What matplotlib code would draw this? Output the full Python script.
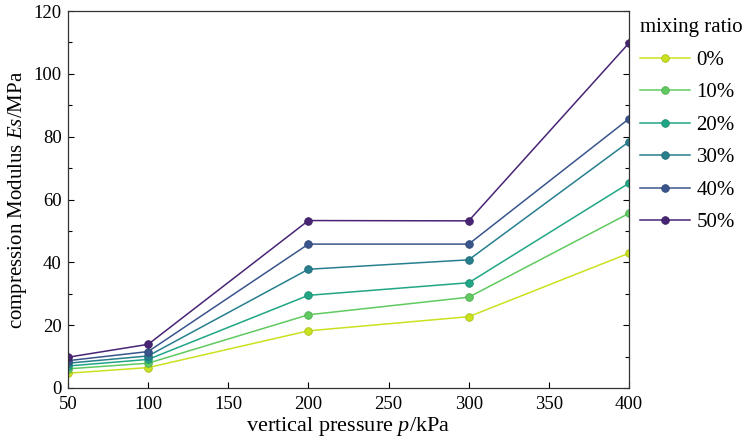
import matplotlib
matplotlib.use("Agg")
import matplotlib.pyplot as plt
import numpy as np
from matplotlib.ticker import MultipleLocator

pressure = [50, 100, 200, 300, 400]
ratios = ["0%", "10%", "20%", "30%", "40%", "50%"]
es_0 = [4.7, 6.5, 18.2, 22.7, 42.9]
es_10 = [6.1, 7.9, 23.3, 28.9, 55.6]
es_20 = [7.0, 9.1, 29.5, 33.5, 65.2]
es_30 = [7.9, 10.2, 37.8, 40.8, 78.4]
es_40 = [8.7, 11.6, 45.8, 45.8, 85.7]
es_50 = [9.8, 13.9, 53.3, 53.2, 109.8]
series = [es_0, es_10, es_20, es_30, es_40, es_50]

plt.rcParams['font.family'] = ['Liberation Serif', 'DejaVu Serif']
plt.rcParams['mathtext.fontset'] = 'custom'
plt.rcParams['mathtext.it'] = 'Liberation Serif:italic'
plt.rcParams['mathtext.rm'] = 'Liberation Serif'

fig = plt.figure(figsize=(7.51, 4.42), dpi=100)
ax = fig.add_axes([68/751, 1-388/442, (629-68)/751, (388-11)/442])

colors = plt.cm.viridis(np.linspace(0.92, 0.1, 6))
for vals, lab, c in zip(series, ratios, colors):
    ax.plot(pressure, vals, '-o', color=c, lw=1.1, ms=5.5,
            mec=tuple(np.clip(np.array(c[:3]) * 0.85, 0, 1)), mew=0.6, label=lab)

ax.set_xlim(50, 400)
ax.set_ylim(0, 120)
ax.xaxis.set_major_locator(MultipleLocator(50))
ax.yaxis.set_major_locator(MultipleLocator(20))
ax.yaxis.set_minor_locator(MultipleLocator(10))
ax.tick_params(axis='both', which='both', direction='in', labelsize=13.5)
ax.tick_params(axis='x', pad=6)
ax.tick_params(axis='y', pad=4.5)
ax.tick_params(axis='y', which='both', right=True)
ax.tick_params(which='major', length=4, width=0.8)
ax.tick_params(which='minor', length=3, width=0.8)
for s in ax.spines.values():
    s.set_linewidth(0.9)
    s.set_color('#333333')

ax.set_xlabel('vertical pressure $p$/kPa', fontsize=16, labelpad=1)
ax.set_ylabel('compression Modulus $Es$/MPa', fontsize=15, labelpad=3)

leg = fig.legend(loc='upper left', bbox_to_anchor=(632/751, 1-10/442), frameon=False,
                 title='mixing ratio', fontsize=15, title_fontsize=15,
                 handlelength=2.4, handletextpad=0.3, labelspacing=0.62,
                 alignment='left', borderaxespad=0)

fig.savefig('out.png', dpi=100)
